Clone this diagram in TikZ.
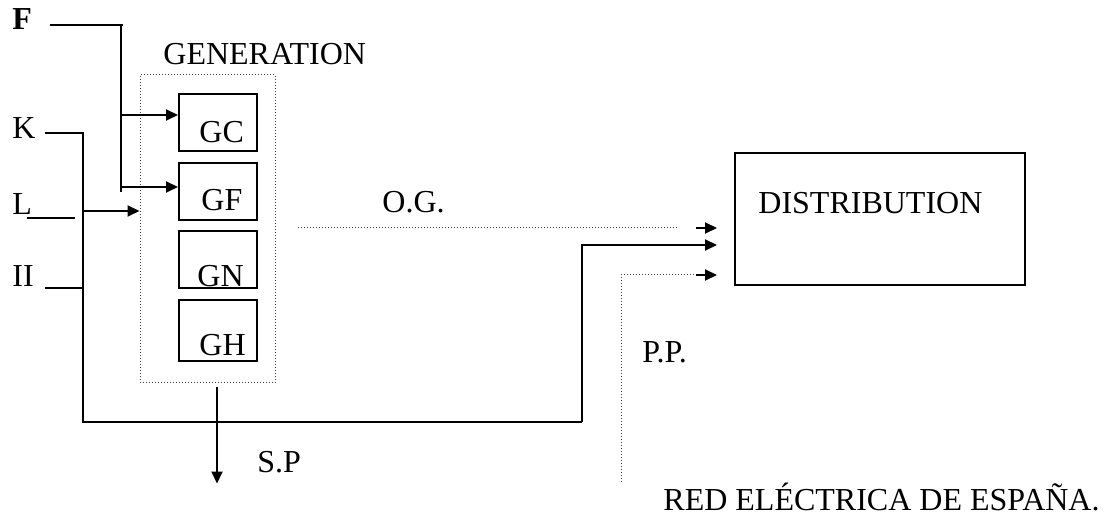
\documentclass[tikz,border=0pt]{standalone}
\usepackage{fontspec}
\setmainfont{Liberation Serif}
\usetikzlibrary{arrows.meta,calc}

\begin{document}
\begin{tikzpicture}[x=0.5pt, y=-0.5pt,
    every node/.style={font=\fontsize{16}{19}\selectfont, inner sep=0pt},
    txt/.style={anchor=base west},
    gbox/.style={draw, line width=1pt, minimum width=39pt, minimum height=28.5pt},
    wire/.style={line width=1pt},
    dots/.style={densely dotted, line width=0.5pt, black!75},
    flow/.style={-{Triangle[length=6pt,width=5.5pt]}, line width=1pt}]
  \useasboundingbox (0,0) rectangle (1109,518);

  % generation block and the distribution box
  \node[draw, dots, minimum width=67.5pt, minimum height=154pt] (gen) at (207.5,229) {};
  \node[gbox] (gc) at (218,123) {};
  \node[gbox] (gf) at (218,191.5) {};
  \node[gbox] (gn) at (218,260) {};
  \node[gbox, minimum height=30.5pt] (gh) at (218,330.5) {};
  \node[draw, line width=1pt, minimum width=145pt, minimum height=66pt] (dist) at (880,219) {};

  % texts
  \node[txt] (lblf) at (12,30) {\textbf{F}};
  \node[txt] (lblk) at (12,139) {K};
  \node[txt] (lbll) at (12,215) {L};
  \node[txt] (lblii) at (12,287) {II};
  \node[txt] (lblgen) at (163,65) {GENERATION};
  \node[txt] at ($(gc.south west)+(21,-10)$) {GC};
  \node[txt] at ($(gf.south west)+(23,-10)$) {GF};
  \node[txt] at ($(gn.south west)+(19,-3)$) {GN};
  \node[txt] at ($(gh.south west)+(21,-6)$) {GH};
  \node[txt] (lbldist) at (758,214) {DISTRIBUTION};
  \node[txt] (lblog) at (382,213) {O.G.};
  \node[txt] (lblpp) at (642,363) {P.P.};
  \node[txt] (lblsp) at (257,472) {S.P};
  \node[txt] (lblred) at (663,510) {RED ELÉCTRICA DE ESPAÑA.};

  % free ends and knees
  \coordinate (fin) at (50,25);
  \coordinate (fknee) at (123,25);
  \coordinate (fend) at (121,192);
  \coordinate (kin) at (45,133);
  \coordinate (ktop) at (83,133);
  \coordinate (kbot) at (83,422);
  \coordinate (rise) at (582,422);
  \coordinate (lin) at (27,218);
  \coordinate (lend) at (75,218);
  \coordinate (iiin) at (45,288);
  \coordinate (gcin) at ($(gc.west)+(0,-8)$);
  \coordinate (gfin) at ($(gf.west)+(0,-4.5)$);
  \coordinate (genin) at ($(gen.west)+(0,-18)$);
  \coordinate (spout) at ($(gen.south)+(9.5,100)$);
  \coordinate (ogstart) at ($(gen.east)+(22,-1)$);
  \coordinate (ogend) at (678,228);
  \coordinate (ogtip) at ($(dist.west)+(-38,9)$);
  \coordinate (ppin) at (621,482);
  \coordinate (ppk) at ($(dist.west)+(-38,56)$);

  % connectors
  \draw[wire] (fin) -- (fknee);
  \draw[wire] (fend |- fin) -- (fend);
  \draw[flow] (fend |- gcin) -- (gcin);
  \draw[flow] (fend |- gfin) -- (gfin);
  \draw[wire] (kin) -- (ktop) -- (kbot) -- (rise);
  \draw[flow] (rise) |- ($(dist.west)+(-17,26)$);
  \draw[wire] (lin) -- (lend);
  \draw[flow] (ktop |- genin) -- (genin);
  \draw[wire] (iiin) -- (ktop |- iiin);
  \draw[flow] ($(gen.south)+(9.5,4)$) -- (spout);
  \draw[dots] (ogstart) -- (ogend);
  \draw[flow] (ogtip) -- ($(dist.west)+(-17,9)$);
  \draw[dots] (ppin) |- ($(ppk)+(-1,0)$);
  \draw[flow] (ppk) -- ($(dist.west)+(-17,56)$);
\end{tikzpicture}
\end{document}
